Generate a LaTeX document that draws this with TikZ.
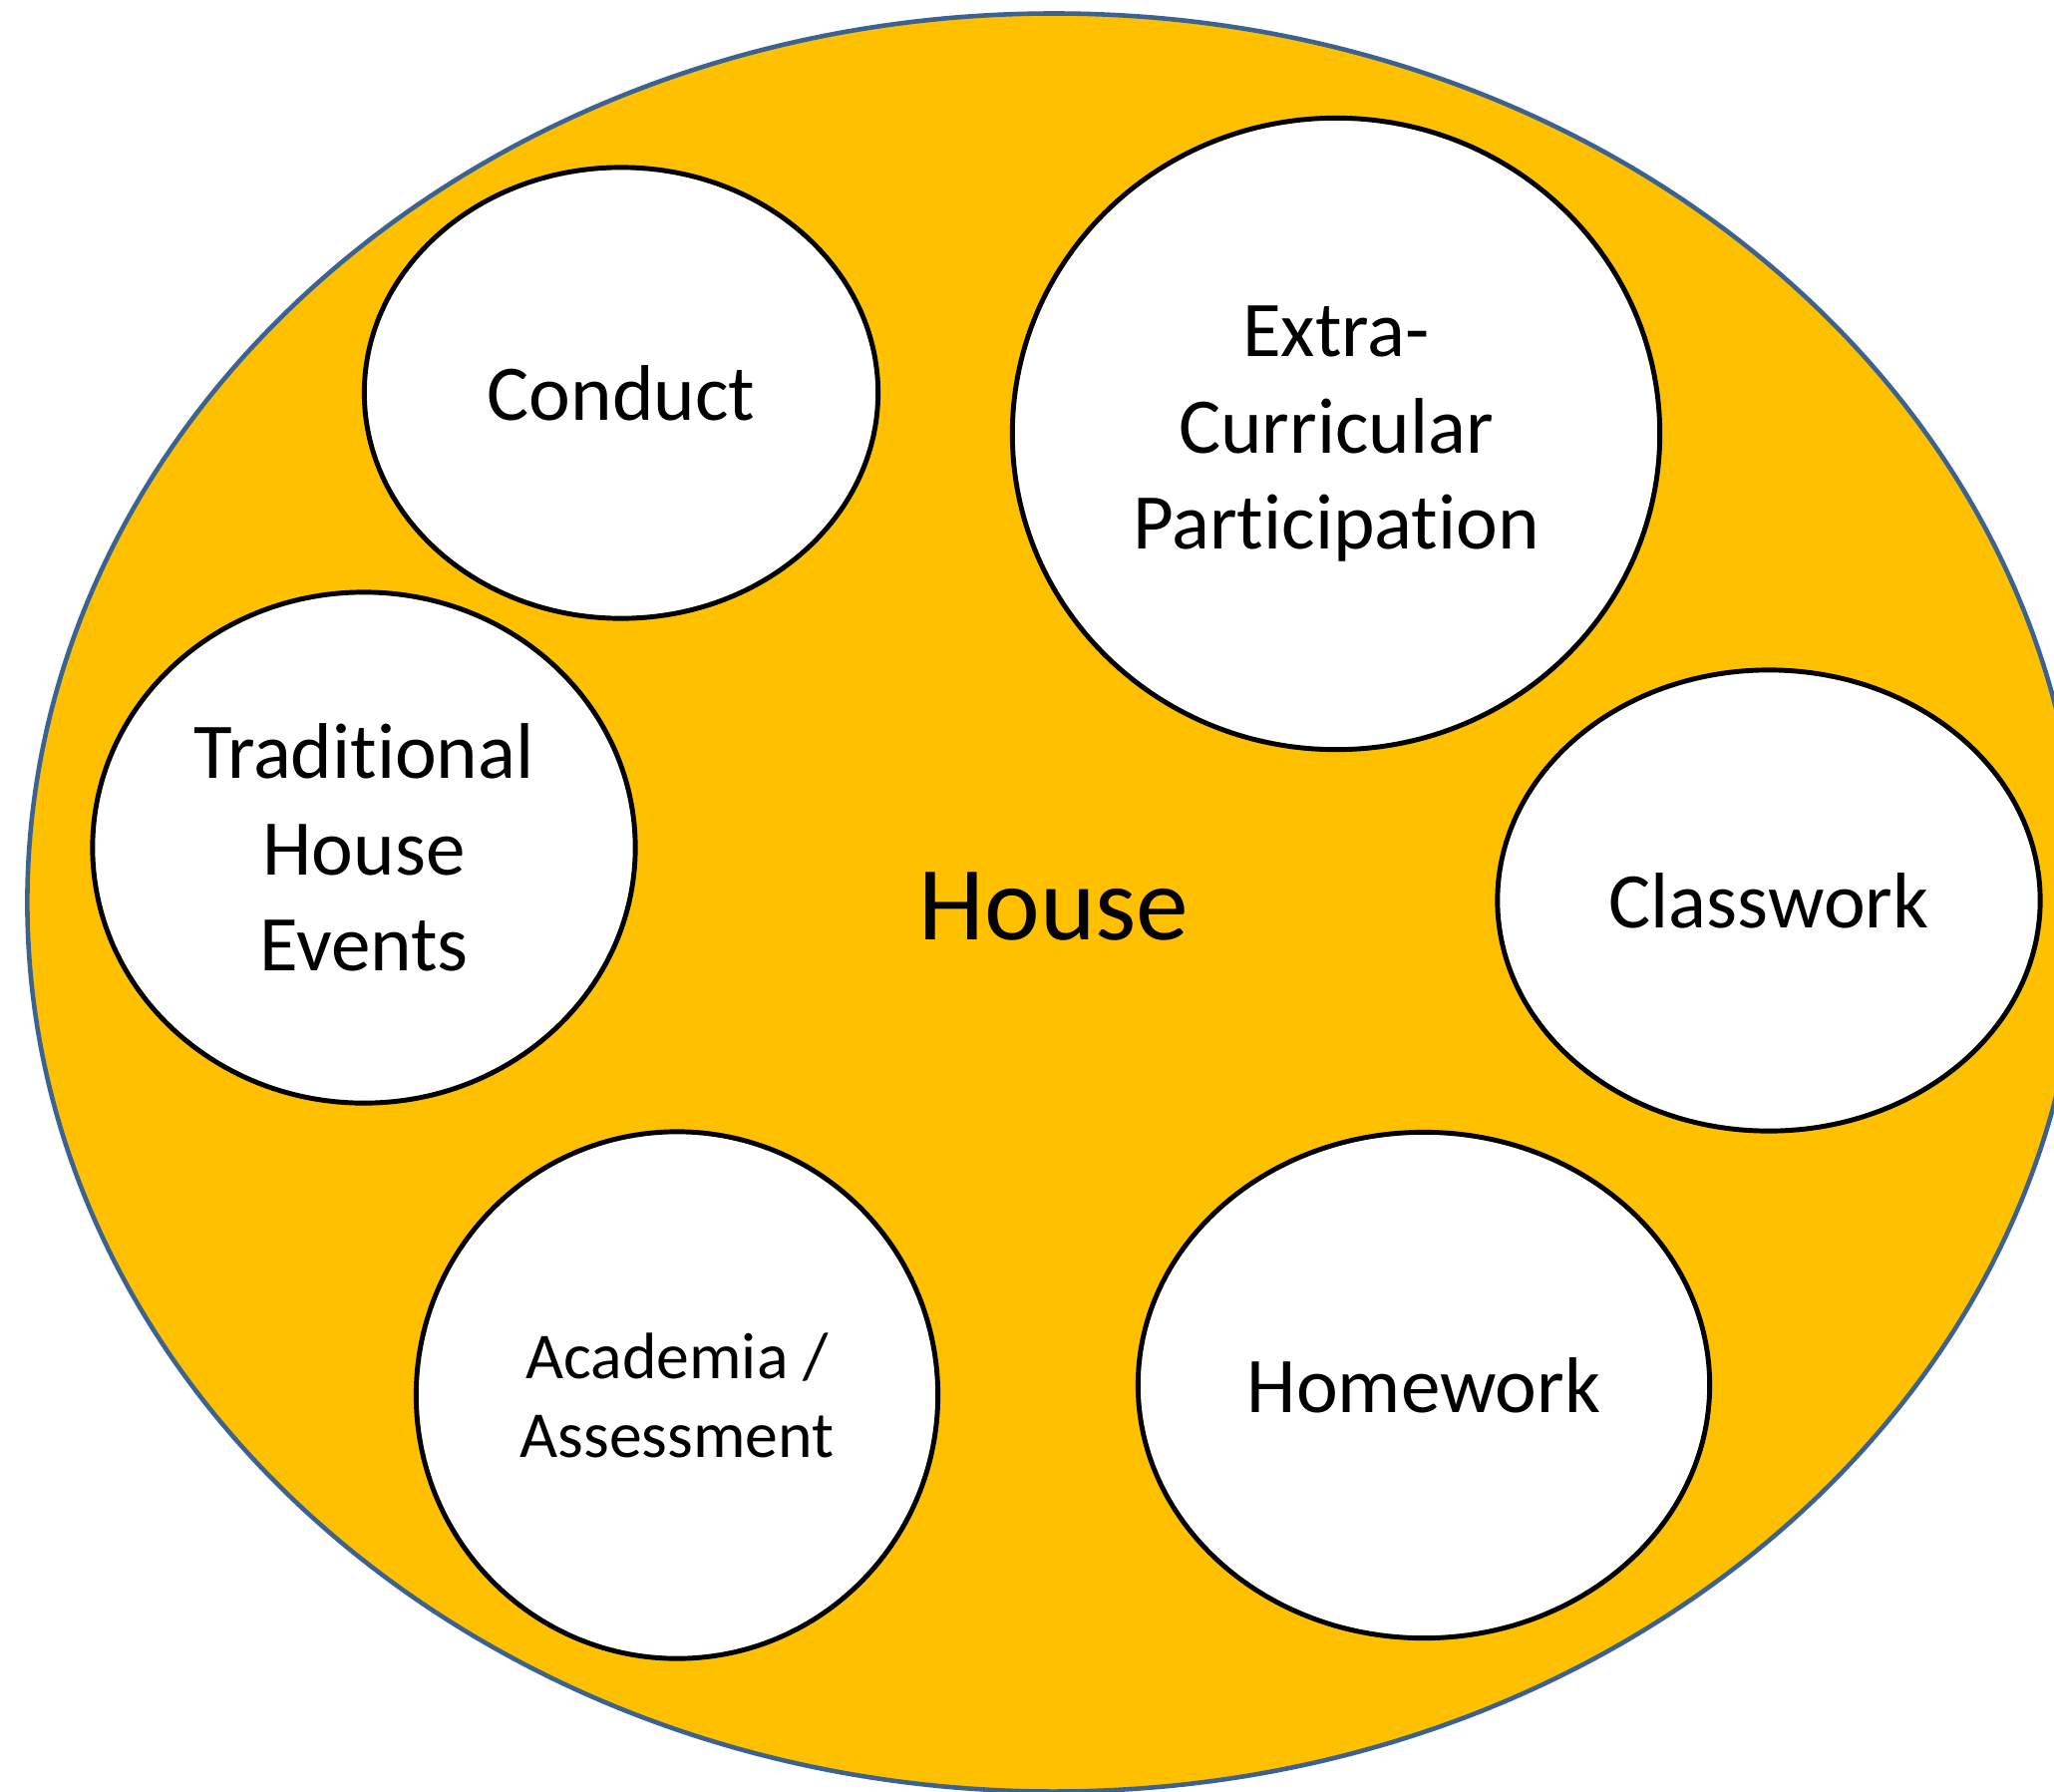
\documentclass[tikz,border=0pt]{standalone}
\usepackage{fontspec}
\setmainfont{Carlito}[Ligatures=NoCommon]
\usetikzlibrary{shapes.geometric}
\definecolor{houseyellow}{RGB}{255,192,0}
\definecolor{houseblue}{RGB}{59,98,145}

\begin{document}
\begin{tikzpicture}[x=0.01cm, y=-0.01cm,
    part/.style={ellipse, draw=black, line width=1.4pt, fill=white, inner sep=0pt, align=center,
        font=\fontsize{22.5}{27.5}\selectfont}]

    % Page size of the reference
    \useasboundingbox (0,0) rectangle (2060,1796);
    \clip (0,0) rectangle (2060,1796);

    % The house
    \node[ellipse, draw=houseblue, line width=1.3pt, fill=houseyellow, inner sep=0pt,
        minimum width=20.58cm, minimum height=17.82cm] (house) at (1057,905) {};
    \node[font=\fontsize{30}{36}\selectfont] (houselabel) at (1057,909) {House};

    % The parts inside it
    \node[part, minimum width=5.15cm, minimum height=4.52cm] (conduct) at (623,394) {Conduct};
    \node[part, minimum width=6.49cm, minimum height=6.33cm] (extra) at (1340,435) {Extra-\\Curricular\\Participation};
    \node[part, minimum width=5.44cm, minimum height=5.12cm] (events) at (365,850) {Traditional\\House\\Events};
    \node[part, minimum width=5.44cm, minimum height=4.62cm] (classwork) at (1774,903) {Classwork};
    \node[part, minimum width=5.23cm, minimum height=5.28cm,
        font=\fontsize{18.7}{22.5}\selectfont] (academia) at (679,1399) {Academia /\\Assessment};
    \node[part, minimum width=5.73cm, minimum height=5.07cm] (homework) at (1428,1389) {Homework};

\end{tikzpicture}
\end{document}
